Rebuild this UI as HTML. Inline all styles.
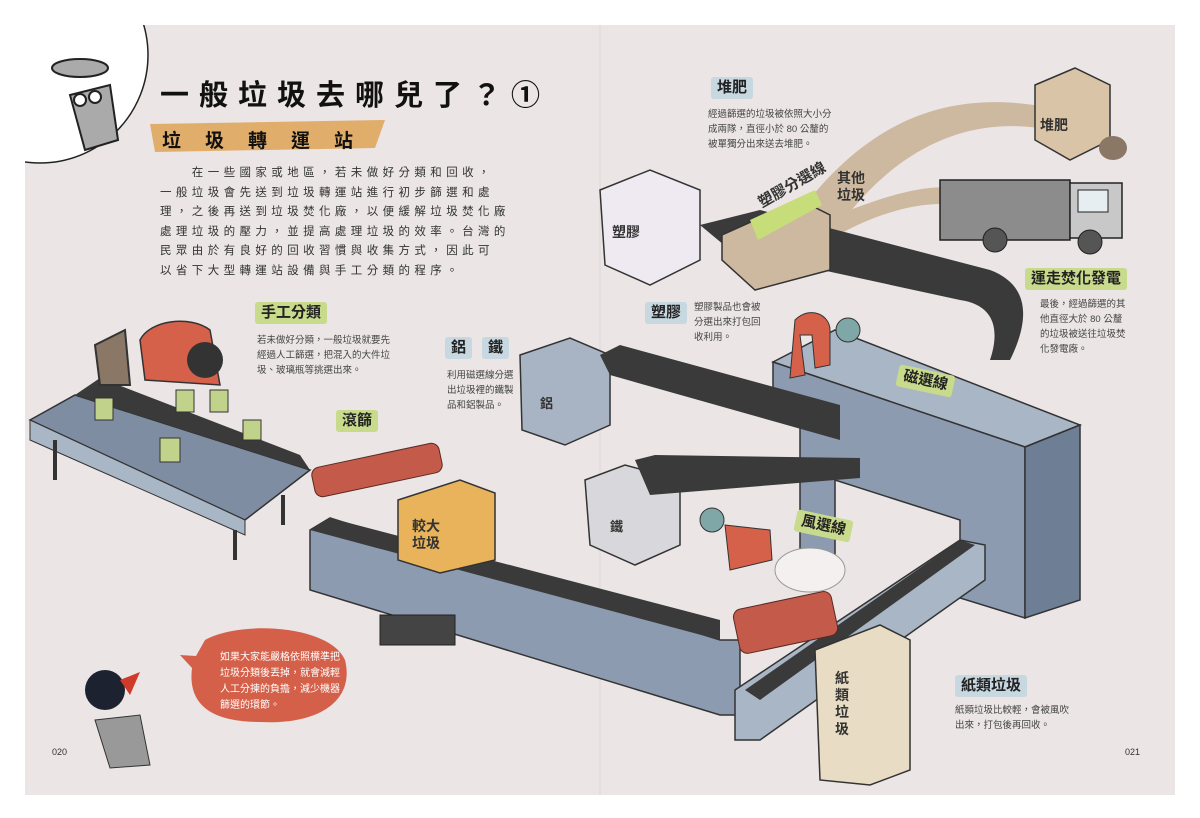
<!DOCTYPE html>
<html><head><meta charset="utf-8"><style>
html,body{margin:0;padding:0;background:#fff;}
body{width:1200px;height:818px;position:relative;overflow:hidden;font-family:"Liberation Sans","Noto Sans CJK TC",sans-serif;}
.t{position:absolute;color:#333;}
.lab{position:absolute;background:#c8da8c;color:#222;font-size:15px;font-weight:bold;padding:2px 6px;border-radius:3px;line-height:18px;}
.blab{position:absolute;background:#c7d8e0;color:#222;font-size:15px;font-weight:bold;padding:2px 6px;border-radius:3px;line-height:18px;}
.sm{position:absolute;font-size:9.5px;line-height:15px;color:#444;white-space:nowrap;}
</style></head><body>
<svg width="1200" height="818" style="position:absolute;left:0;top:0">
<rect x="25" y="25" width="1150" height="770" fill="#ebe5e5"/>
<line x1="600" y1="25" x2="600" y2="795" stroke="#ddd6d6"/>
<circle cx="40" cy="55" r="108" fill="#fff" stroke="#222" stroke-width="1.5"/>
<rect x="0" y="0" width="25" height="818" fill="#fff"/><rect x="0" y="0" width="1200" height="25" fill="#fff"/>
<g stroke="#222" stroke-width="2">
<ellipse cx="80" cy="68" rx="28" ry="9" fill="#aaa"/>
<path d="M70 95 L110 85 L118 140 L85 150 Z" fill="#aaa"/>
<circle cx="80" cy="100" r="6" fill="#fff"/><circle cx="95" cy="97" r="6" fill="#fff"/>
</g>
<path d="M150 124 L385 120 L375 148 L155 152 Z" fill="#e0ae6a"/>
<path d="M790 225 C850 140 930 80 1060 110 L1050 130 C950 110 880 170 840 225 Z" fill="#cdb9a0"/>
<path d="M815 225 C870 200 930 180 960 190 L955 205 C920 200 870 215 830 240 Z" fill="#cdb9a0"/>
<polygon points="1035,85 1075,68 1110,85 1110,140 1070,160 1035,140" fill="#d9c4a8" stroke="#333" stroke-width="1.5"/>
<ellipse cx="1113" cy="148" rx="14" ry="12" fill="#8a7766"/>
<rect x="940" y="180" width="130" height="60" fill="#8c8c8c" stroke="#222" stroke-width="1.5"/>
<rect x="1070" y="183" width="52" height="55" fill="#c8c8c8" stroke="#222" stroke-width="1.5"/>
<rect x="1078" y="190" width="30" height="22" fill="#e6eef2" stroke="#222"/>
<circle cx="995" cy="240" r="12" fill="#555" stroke="#222"/><circle cx="1090" cy="242" r="12" fill="#555" stroke="#222"/>
<polygon points="600,190 650,170 700,190 700,260 650,285 605,265" fill="#efeaf2" stroke="#333" stroke-width="1.5"/>
<path d="M700 225 L760 210 L990 270 C1030 285 1030 320 1010 360 L990 360 C1000 330 995 305 960 300 L730 250 Z" fill="#3a3a3a"/>
<polygon points="722,235 800,200 830,215 830,270 755,290 722,260" fill="#cdb8a0" stroke="#333" stroke-width="1.5"/>
<polygon points="750,220 815,190 822,205 758,240" fill="#c7dd7a"/>
<polygon points="520,355 570,338 610,355 610,425 565,445 522,430" fill="#a8b4c4" stroke="#333" stroke-width="1.5"/>
<polygon points="773,362 835,330 1080,425 1025,447" fill="#a9b6c6" stroke="#333" stroke-width="1.5"/>
<polygon points="773,362 1025,447 1025,618 960,598 960,520 835,480 835,560 800,550 800,420 773,412" fill="#8c9bb0" stroke="#333" stroke-width="1.5"/>
<polygon points="1025,447 1080,425 1080,600 1025,618" fill="#6e7e95" stroke="#333" stroke-width="1.5"/>
<path d="M600 355 L620 345 L840 405 L840 440 L610 375 Z" fill="#3a3a3a"/>
<polygon points="585,480 625,465 680,480 680,545 635,565 590,545" fill="#d8d8dc" stroke="#333" stroke-width="1.5"/>
<path d="M635 460 L655 455 L860 458 L860 478 L650 495 Z" fill="#3a3a3a"/>
<path d="M795 320 C810 305 830 315 830 330 L830 365 L815 368 L812 335 L800 335 L805 375 L790 378 Z" fill="#d5614a" stroke="#333"/>
<circle cx="848" cy="330" r="12" fill="#7fa7a8" stroke="#333"/>
<polygon points="310,530 330,518 720,640 740,640 740,715 720,715 310,590" fill="#8c9bb0" stroke="#333" stroke-width="1.5"/>
<polygon points="330,518 720,620 720,640 310,530" fill="#3a3a3a"/>
<rect x="380" y="615" width="75" height="30" fill="#444" stroke="#222"/>
<polygon points="735,690 960,540 985,545 985,580 760,740 735,740" fill="#a9b6c6" stroke="#333" stroke-width="1.5"/>
<polygon points="745,690 960,540 975,545 760,700" fill="#3a3a3a"/>
<g fill="#c45a4a" stroke="#5a2a22">
<rect x="312" y="455" width="130" height="30" rx="8" transform="rotate(-12 377 470)"/>
<rect x="735" y="600" width="100" height="45" rx="8" transform="rotate(-12 785 620)"/>
</g>
<circle cx="712" cy="520" r="12" fill="#7fa7a8" stroke="#333"/>
<path d="M725 525 L770 530 L772 560 L730 570 Z" fill="#d5614a" stroke="#333"/>
<ellipse cx="810" cy="570" rx="35" ry="22" fill="#f4f0f0" stroke="#999"/>
<polygon points="398,500 460,480 495,493 495,560 440,573 398,560" fill="#e8b35a" stroke="#333" stroke-width="1.5"/>
<polygon points="815,650 880,625 910,640 910,770 870,785 820,780" fill="#e9dcc4" stroke="#333" stroke-width="1.5"/>
<polygon points="30,420 75,395 310,470 245,520" fill="#7f8da3" stroke="#333" stroke-width="1.5"/>
<polygon points="30,420 245,520 245,535 30,440" fill="#a9b6c6" stroke="#333"/>
<g stroke="#333" stroke-width="4"><line x1="55" y1="440" x2="55" y2="480"/><line x1="235" y1="530" x2="235" y2="560"/><line x1="283" y1="495" x2="283" y2="525"/></g>
<path d="M75 395 L100 378 L300 455 L310 470 Z" fill="#3a3a3a"/>
<path d="M140 340 C150 320 190 315 210 330 L220 385 L145 380 Z" fill="#d5614a" stroke="#333" stroke-width="1.5"/>
<circle cx="205" cy="360" r="18" fill="#333"/>
<path d="M95 345 L125 330 L130 385 L100 385 Z" fill="#8a7766" stroke="#333" stroke-width="2"/>
<g fill="#c1d38a" stroke="#333"><rect x="95" y="398" width="18" height="22"/><rect x="160" y="438" width="20" height="24"/><rect x="176" y="390" width="18" height="22"/><rect x="210" y="390" width="18" height="22"/><rect x="243" y="420" width="18" height="20"/></g>
<path d="M205 640 C240 620 330 625 345 660 C355 700 320 725 260 722 C205 722 188 700 192 668 L180 655 L196 656 Z" fill="#d4604a"/>
<path d="M95 720 L140 715 L150 765 L110 768 Z" fill="#999" stroke="#333"/>
<circle cx="105" cy="690" r="20" fill="#1c2230"/>
<path d="M120 680 L140 672 L130 695 Z" fill="#cf3a2a"/>
</svg>
<div class="t" style="left:160px;top:72px;font-size:29px;font-weight:bold;color:#111;letter-spacing:10px;white-space:nowrap">一般垃圾去哪兒了？①</div>
<div class="t" style="left:162px;top:126px;font-size:19px;font-weight:bold;color:#111;letter-spacing:24px;white-space:nowrap">垃圾轉運站</div>
<div class="t" style="left:160px;top:164px;font-size:11.5px;line-height:19.5px;color:#333;letter-spacing:4.4px;white-space:nowrap">　　在一些國家或地區，若未做好分類和回收，<br>一般垃圾會先送到垃圾轉運站進行初步篩選和處<br>理，之後再送到垃圾焚化廠，以便緩解垃圾焚化廠<br>處理垃圾的壓力，並提高處理垃圾的效率。台灣的<br>民眾由於有良好的回收習慣與收集方式，因此可<br>以省下大型轉運站設備與手工分類的程序。</div>
<div class="lab" style="left:255px;top:302px">手工分類</div>
<div class="sm" style="left:257px;top:333px">若未做好分類，一般垃圾就要先<br>經過人工篩選，把混入的大件垃<br>圾、玻璃瓶等挑選出來。</div>
<div class="blab" style="left:445px;top:337px">鋁</div><div class="blab" style="left:482px;top:337px">鐵</div>
<div class="sm" style="left:447px;top:368px">利用磁選線分選<br>出垃圾裡的鐵製<br>品和鋁製品。</div>
<div class="lab" style="left:336px;top:410px">滾篩</div>
<div class="blab" style="left:711px;top:77px">堆肥</div>
<div class="sm" style="left:708px;top:107px">經過篩選的垃圾被依照大小分<br>成兩隊，直徑小於 80 公釐的<br>被單獨分出來送去堆肥。</div>
<div class="blab" style="left:645px;top:302px">塑膠</div>
<div class="sm" style="left:694px;top:300px">塑膠製品也會被<br>分選出來打包回<br>收利用。</div>
<div class="t" style="left:837px;top:170px;font-size:14px;font-weight:bold;line-height:17px">其他<br>垃圾</div>
<div class="t" style="left:612px;top:222px;font-size:14px;font-weight:bold">塑膠</div>
<div class="t" style="left:1040px;top:115px;font-size:14px;font-weight:bold">堆肥</div>
<div class="t" style="left:754px;top:194px;font-size:15px;font-weight:bold;transform:rotate(-30deg);transform-origin:left top">塑膠分選線</div>
<div class="lab" style="left:1025px;top:268px">運走焚化發電</div>
<div class="sm" style="left:1040px;top:297px">最後，經過篩選的其<br>他直徑大於 80 公釐<br>的垃圾被送往垃圾焚<br>化發電廠。</div>
<div class="lab" style="left:897px;top:370px;transform:rotate(12deg)">磁選線</div>
<div class="t" style="left:540px;top:393px;font-size:13px;font-weight:bold">鋁</div>
<div class="t" style="left:610px;top:516px;font-size:13px;font-weight:bold">鐵</div>
<div class="lab" style="left:795px;top:515px;transform:rotate(12deg)">風選線</div>
<div class="t" style="left:412px;top:518px;font-size:14px;font-weight:bold;line-height:17px">較大<br>垃圾</div>
<div class="t" style="left:835px;top:670px;font-size:14px;font-weight:bold;line-height:17px;width:16px">紙類垃圾</div>
<div class="blab" style="left:955px;top:675px">紙類垃圾</div>
<div class="sm" style="left:955px;top:703px">紙類垃圾比較輕，會被風吹<br>出來，打包後再回收。</div>
<div class="t" style="left:220px;top:650px;font-size:10px;line-height:16px;color:#fff;white-space:nowrap">如果大家能嚴格依照標準把<br>垃圾分類後丟掉，就會減輕<br>人工分揀的負擔，減少機器<br>篩選的環節。</div>
<div class="t" style="left:52px;top:747px;font-size:9px">020</div>
<div class="t" style="left:1125px;top:747px;font-size:9px">021</div>
</body></html>
